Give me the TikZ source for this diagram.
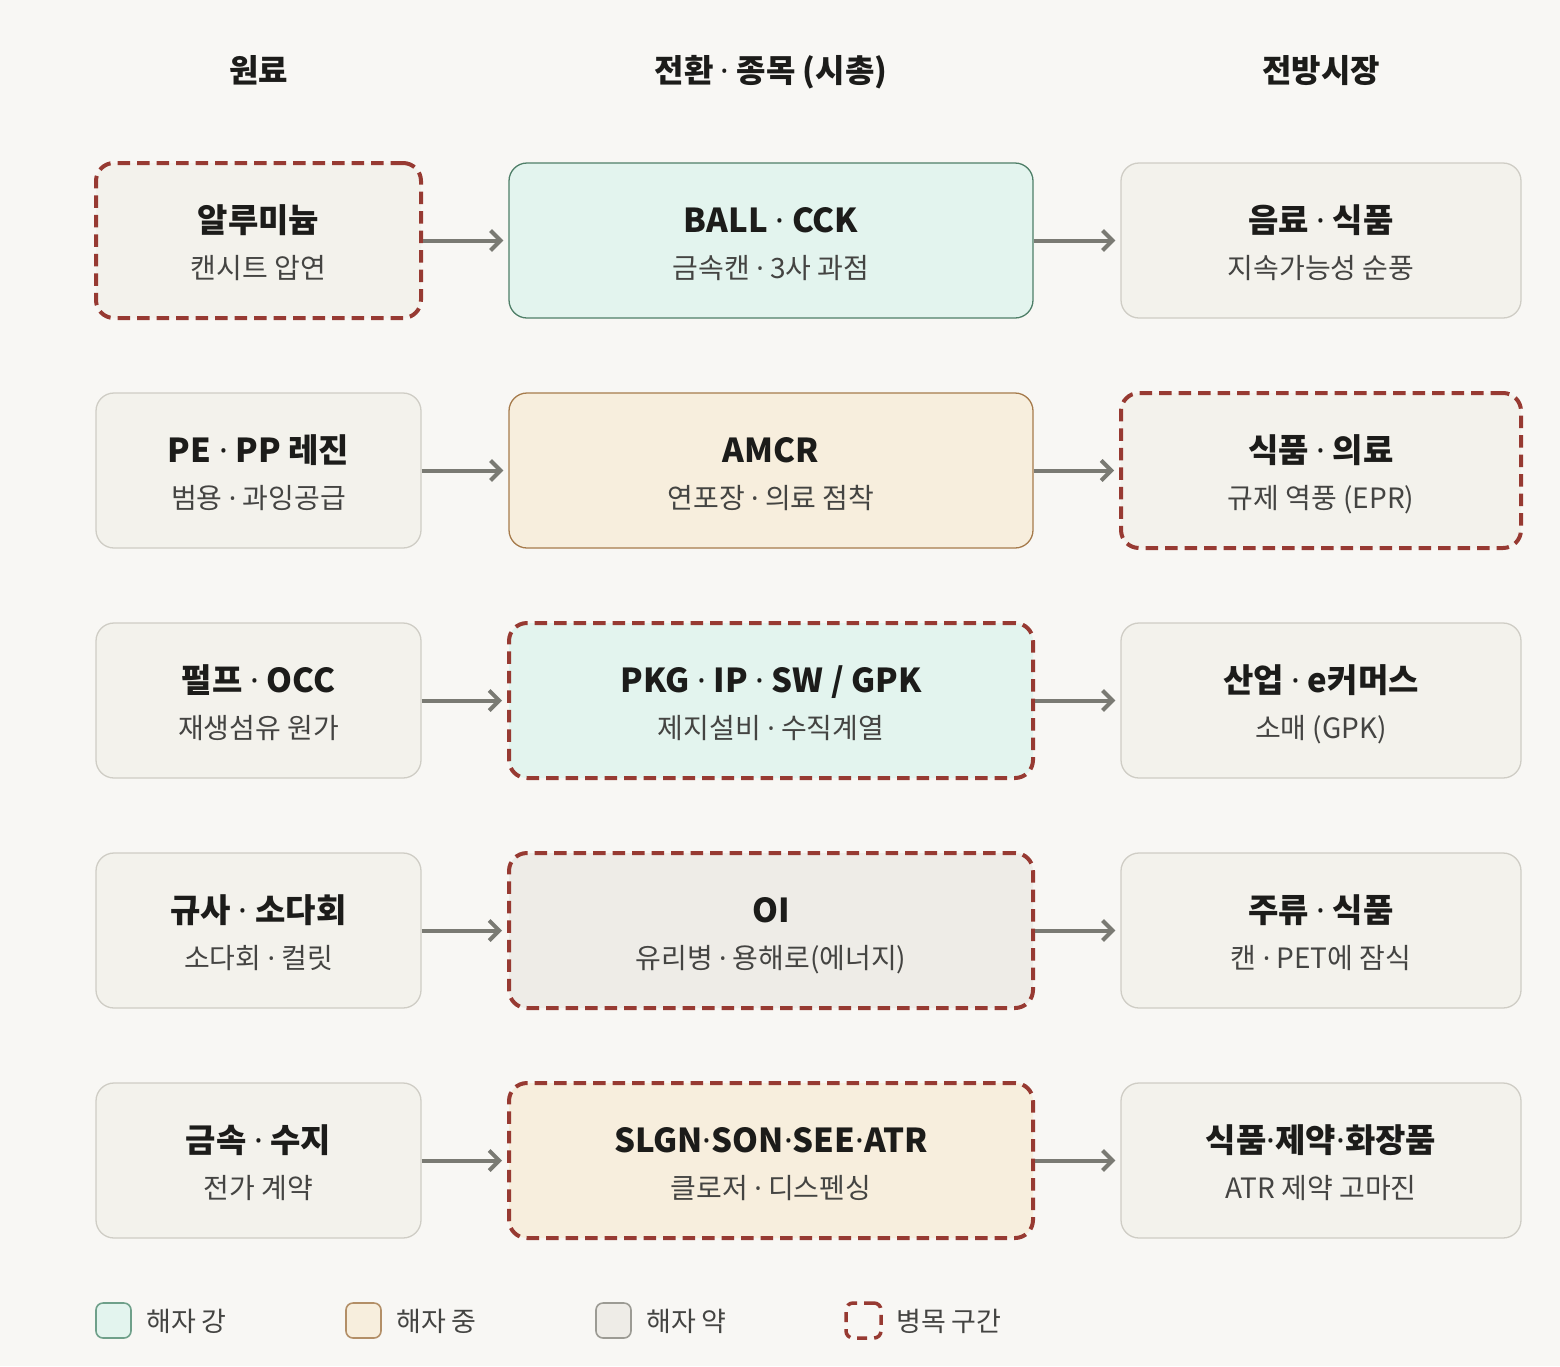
\documentclass[tikz,border=0pt]{standalone}
\usepackage{fontspec}
\setmainfont{Noto Sans CJK KR}
\newfontfamily\dotf{Noto Sans}
\newcommand\md{{\dotf ·}}
\usetikzlibrary{arrows.meta}
\definecolor{bg}{HTML}{F8F7F4}
\definecolor{nfill}{HTML}{F3F2EC}
\definecolor{ndraw}{HTML}{CFCDC5}
\definecolor{gfill}{HTML}{E3F4EE}
\definecolor{gdraw}{HTML}{4F7F68}
\definecolor{gldraw}{HTML}{6FA08A}
\definecolor{ofill}{HTML}{F7EEDD}
\definecolor{odraw}{HTML}{A67B4C}
\definecolor{wfill}{HTML}{EEECE7}
\definecolor{wdraw}{HTML}{9C9B94}
\definecolor{rdash}{HTML}{973A32}
\definecolor{arr}{HTML}{7A7A73}
\definecolor{ttlc}{HTML}{1C1C1A}
\definecolor{subc}{HTML}{444442}
\tikzset{
  box/.style={rectangle, rounded corners=18pt, minimum height=155pt, line width=1.3pt},
  lbox/.style={box, minimum width=325pt},
  mbox/.style={box, minimum width=524pt},
  rbox/.style={box, minimum width=400pt},
  neutral/.style={fill=nfill, draw=ndraw},
  strong/.style={fill=gfill, draw=gdraw},
  medium/.style={fill=ofill, draw=odraw},
  weak/.style={fill=wfill, draw=wdraw},
  bneck/.style={draw=rdash, line width=4pt, dash pattern=on 12.5pt off 7pt},
  ttl/.style={anchor=base, text=ttlc, font=\fontsize{33}{38}\selectfont\bfseries, inner sep=0pt},
  sub/.style={anchor=base, text=subc, font=\fontsize{28}{32}\selectfont, inner sep=0pt},
  hdr/.style={anchor=base, text=ttlc, font=\fontsize{32}{36}\selectfont\bfseries, inner sep=0pt},
  conn/.style={draw=arr, line width=4pt, -{Straight Barb[length=10pt, width=20pt, line width=4pt]}, shorten >=5pt},
  sw/.style={rectangle, rounded corners=7pt, minimum width=35pt, minimum height=35pt, line width=1.6pt},
  leg/.style={anchor=base west, text=subc, font=\fontsize{27}{32}\selectfont, inner sep=0pt}
}
\newcommand\bx[7]{%
  \node[#2,#5] (#1) at (#3,#4) {};
  \node[ttl] (#1t) at ([yshift=8.5pt]#1.center) {#6};
  \node[sub] (#1s) at ([yshift=-37.5pt]#1.center) {#7};
}
\begin{document}
\begin{tikzpicture}[x=1pt,y=-1pt]
\path[fill=bg] (0,0) rectangle (1560,1366);
\useasboundingbox (0,0) rectangle (1560,1366);

\node[hdr] (h1) at (258.5,82) {원료};
\node[hdr] (h2) at (771,82) {전환 \md{} 종목 (시총)};
\node[hdr] (h3) at (1321,82) {전방시장};

% row 1
\bx{a1}{lbox}{258.5}{240.5}{neutral,bneck}{알루미늄}{캔시트 압연}
\bx{b1}{mbox}{771}{240.5}{strong}{BALL \md{} CCK}{금속캔 \md{} 3사 과점}
\bx{c1}{rbox}{1321}{240.5}{neutral}{음료 \md{} 식품}{지속가능성 순풍}
% row 2
\bx{a2}{lbox}{258.5}{470.5}{neutral}{PE \md{} PP 레진}{범용 \md{} 과잉공급}
\bx{b2}{mbox}{771}{470.5}{medium}{AMCR}{연포장 \md{} 의료 점착}
\bx{c2}{rbox}{1321}{470.5}{neutral,bneck}{식품 \md{} 의료}{규제 역풍 (EPR)}
% row 3
\bx{a3}{lbox}{258.5}{700.5}{neutral}{펄프 \md{} OCC}{재생섬유 원가}
\bx{b3}{mbox}{771}{700.5}{strong,bneck}{PKG \md{} IP \md{} SW / GPK}{제지설비 \md{} 수직계열}
\bx{c3}{rbox}{1321}{700.5}{neutral}{산업 \md{} e커머스}{소매 (GPK)}
% row 4
\bx{a4}{lbox}{258.5}{930.5}{neutral}{규사 \md{} 소다회}{소다회 \md{} 컬릿}
\bx{b4}{mbox}{771}{930.5}{weak,bneck}{OI}{유리병 \md{} 용해로(에너지)}
\bx{c4}{rbox}{1321}{930.5}{neutral}{주류 \md{} 식품}{캔 \md{} PET에 잠식}
% row 5
\bx{a5}{lbox}{258.5}{1160.5}{neutral}{금속 \md{} 수지}{전가 계약}
\bx{b5}{mbox}{771}{1160.5}{medium,bneck}{SLGN\md{}SON\md{}SEE\md{}ATR}{클로저 \md{} 디스펜싱}
\bx{c5}{rbox}{1321}{1160.5}{neutral}{식품\md{}제약\md{}화장품}{ATR 제약 고마진}

\foreach \i in {1,...,5}{
  \draw[conn] (a\i.east) -- (b\i.west);
  \draw[conn] (b\i.east) -- (c\i.west);
}

% legend
\node[sw, fill=gfill, draw=gldraw] (l1) at (113.5,1320.5) {};
\node[leg] (l1t) at (146,1331) {해자 강};
\node[sw, fill=ofill, draw=odraw!85] (l2) at (363.5,1320.5) {};
\node[leg] (l2t) at (396,1331) {해자 중};
\node[sw, fill=wfill, draw=wdraw] (l3) at (613.5,1320.5) {};
\node[leg] (l3t) at (646,1331) {해자 약};
\node[sw, fill=bg, draw=rdash, line width=3.5pt, dash pattern=on 10pt off 7pt] (l4) at (863.5,1320.5) {};
\node[leg] (l4t) at (896,1331) {병목 구간};
\end{tikzpicture}
\end{document}
